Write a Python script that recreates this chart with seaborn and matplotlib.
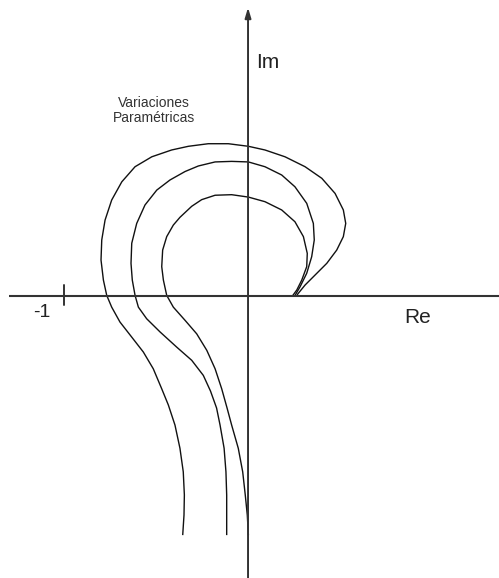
import numpy as np
import pandas as pd
import matplotlib
matplotlib.use("Agg")
import matplotlib.pyplot as plt
import seaborn as sns

# --- Data (Re, Im) ---
outer_re = [-0.355, -0.348, -0.346, -0.352, -0.370, -0.397, -0.433, -0.469, -0.515, -0.569,
            -0.632, -0.696, -0.741, -0.768, -0.786, -0.799, -0.795, -0.777, -0.741, -0.686,
            -0.614, -0.523, -0.415, -0.324, -0.216, -0.107, 0.002, 0.092, 0.201, 0.310,
            0.401, 0.473, 0.518, 0.531, 0.518, 0.482, 0.428, 0.364, 0.310, 0.270, 0.266]
outer_im = [-1.302, -1.193, -1.084, -0.958, -0.830, -0.704, -0.595, -0.507, -0.398, -0.307,
            -0.226, -0.144, -0.063, 0.001, 0.084, 0.193, 0.302, 0.410, 0.519, 0.618,
            0.700, 0.754, 0.791, 0.811, 0.825, 0.825, 0.811, 0.791, 0.754, 0.700,
            0.637, 0.555, 0.465, 0.392, 0.320, 0.247, 0.175, 0.111, 0.057, 0.008, 0.000]

middle_re = [-0.116, -0.116, -0.116, -0.120, -0.130, -0.152, -0.171, -0.204, -0.243, -0.306,
             -0.388, -0.478, -0.551, -0.596, -0.614, -0.629, -0.636, -0.632, -0.605, -0.560,
             -0.496, -0.424, -0.342, -0.270, -0.179, -0.089, 0.002, 0.092, 0.183, 0.255,
             0.319, 0.355, 0.360, 0.346, 0.319, 0.283, 0.255]
middle_im = [-1.302, -1.193, -1.084, -0.958, -0.830, -0.704, -0.611, -0.519, -0.434, -0.352,
             -0.280, -0.198, -0.126, -0.063, 0.001, 0.084, 0.175, 0.284, 0.392, 0.492,
             0.573, 0.628, 0.674, 0.704, 0.726, 0.729, 0.726, 0.700, 0.655, 0.591,
             0.501, 0.392, 0.302, 0.211, 0.121, 0.048, 0.000]

inner_re = [0.002, -0.004, -0.015, -0.029, -0.053, -0.089, -0.114, -0.143, -0.179, -0.224,
            -0.279, -0.342, -0.406, -0.442, -0.460, -0.469, -0.464, -0.442, -0.406, -0.370,
            -0.306, -0.252, -0.179, -0.089, 0.002, 0.092, 0.183, 0.255, 0.301, 0.322,
            0.319, 0.292, 0.265, 0.243]
inner_im = [-1.302, -1.193, -1.084, -0.958, -0.830, -0.704, -0.611, -0.507, -0.398, -0.298,
            -0.208, -0.135, -0.063, 0.001, 0.084, 0.157, 0.247, 0.320, 0.383, 0.425,
            0.485, 0.521, 0.545, 0.548, 0.535, 0.510, 0.465, 0.401, 0.320, 0.229,
            0.157, 0.084, 0.030, 0.000]

curve_names = ["outer", "middle", "inner"]
tick_value = -1
tick_label = "-1"
label_re = "Re"
label_im = "Im"
annotation = "Variaciones\nParamétricas"

frames = []
for name, xs, ys in zip(curve_names, [outer_re, middle_re, inner_re], [outer_im, middle_im, inner_im]):
    frames.append(pd.DataFrame({"re": xs, "im": ys, "curve": name}))
df = pd.concat(frames, ignore_index=True)

sns.set_theme(style="white")
plt.rcParams["font.family"] = ["Liberation Sans", "DejaVu Sans"]

fig = plt.figure(figsize=(4.99, 5.78), dpi=100)
ax = fig.add_axes([0, 0, 1, 1])
ax.set_xlim(-1.348, 1.364)
ax.set_ylim(-1.535, 1.606)
ax.axis("off")

sns.lineplot(data=df, x="re", y="im", units="curve", estimator=None, sort=False,
             color="#111111", linewidth=1.0, ax=ax, legend=False,
             solid_joinstyle="round", solid_capstyle="butt")

axis_color = "#333333"
# Real axis
ax.plot([-1.299, 1.364], [0, 0], color=axis_color, lw=1.5, solid_capstyle="butt")
# Imaginary axis with arrow
ax.annotate("", xy=(0, 1.565), xytext=(0, -1.535),
            arrowprops=dict(arrowstyle="-|>,head_length=0.5,head_width=0.15",
                            color=axis_color, lw=1.4, shrinkA=0, shrinkB=0))
# Tick at -1
ax.plot([tick_value, tick_value], [-0.052, 0.057], color=axis_color, lw=1.4)

ax.text(-1.120, -0.090, tick_label, ha="center", va="center", fontsize=14, color="#222222")
ax.text(0.924, -0.122, label_re, ha="center", va="center", fontsize=15, color="#222222")
ax.text(0.109, 1.269, label_im, ha="center", va="center", fontsize=15, color="#222222")
ax.text(-0.511, 1.005, annotation, ha="center", va="center", fontsize=10,
        color="#333333", linespacing=1.15)

fig.savefig("out.png", dpi=100)
